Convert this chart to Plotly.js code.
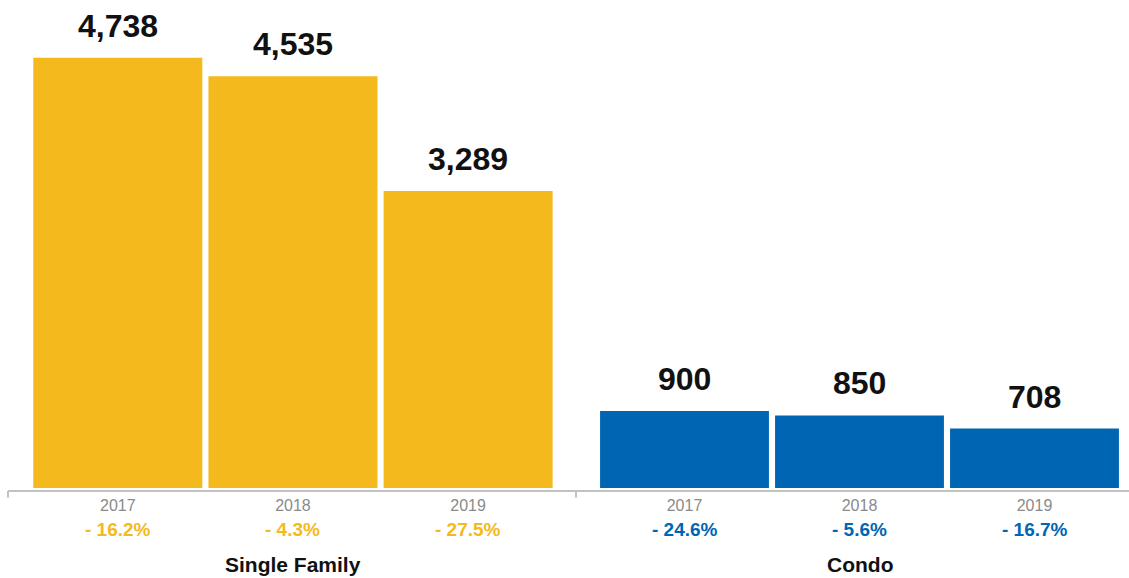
<!DOCTYPE html>
<html>
<head>
<meta charset="utf-8">
<script src="https://cdn.plot.ly/plotly-3.0.1.min.js"></script>
<style>html,body{margin:0;padding:0;background:#fff;}#chart{width:1129px;height:578px;}</style>
</head>
<body>
<div id="chart"></div>
<script>
const groups = ["Single Family", "Condo"];
const years = ["2017", "2018", "2019"];
const singleFamily = [4738, 4535, 3289];
const condo = [900, 850, 708];
const singleFamilyChange = ["- 16.2%", "- 4.3%", "- 27.5%"];
const condoChange = ["- 24.6%", "- 5.6%", "- 16.7%"];

const YELLOW = "#F4BA1D";
const BLUE = "#0066B3";
const FONT = "'Liberation Sans', Arial, Helvetica, sans-serif";

const W = 1129, H = 578;
const mT = 10, plotBottom = 488.5;
const mB = H - plotBottom;
const plotH = plotBottom - mT;
const py = px => (plotBottom - px) / plotH;  // pixel row -> paper y
const pxX = px => px / W;                    // pixel col -> paper x

const fmt = v => v.toLocaleString("en-US");

const traces = [
  {type: "bar", x: years, y: singleFamily, xaxis: "x", yaxis: "y",
   marker: {color: YELLOW}, hoverinfo: "skip"},
  {type: "bar", x: years, y: condo, xaxis: "x2", yaxis: "y2",
   marker: {color: BLUE}, hoverinfo: "skip"}
];

const annotations = [];
const series = [
  {xa: "x", ya: "y", vals: singleFamily, chg: singleFamilyChange, color: YELLOW, name: groups[0]},
  {xa: "x2", ya: "y2", vals: condo, chg: condoChange, color: BLUE, name: groups[1]}
];
series.forEach(s => {
  years.forEach((yr, i) => {
    annotations.push({xref: s.xa, yref: s.ya, x: i, y: s.vals[i],
      text: "<b>" + fmt(s.vals[i]) + "</b>", showarrow: false, yanchor: "bottom", yshift: 12,
      font: {family: FONT, size: 32, color: "#111"}});
    annotations.push({xref: s.xa, yref: "paper", x: i, y: py(530.5),
      text: "<b>" + s.chg[i] + "</b>", showarrow: false, yanchor: "middle",
      font: {family: FONT, size: 19, color: s.color}});
  });
  annotations.push({xref: s.xa + " domain", yref: "paper", x: 0.5, y: py(565.5),
    text: "<b>" + s.name + "</b>", showarrow: false, yanchor: "middle",
    font: {family: FONT, size: 21, color: "#111"}});
});

const lineColor = "#c2c2c2";
const shapes = [
  {type: "line", xref: "paper", yref: "paper", x0: pxX(8), x1: 1, y0: py(491.5), y1: py(491.5),
   line: {color: lineColor, width: 2}},
  {type: "line", xref: "paper", yref: "paper", x0: pxX(8), x1: pxX(8), y0: py(491.5), y1: py(498),
   line: {color: lineColor, width: 2}},
  {type: "line", xref: "paper", yref: "paper", x0: pxX(576), x1: pxX(576), y0: py(491.5), y1: py(498),
   line: {color: lineColor, width: 2}}
];

const yRange = [62, 62 + plotH / 0.09213];
const xaxisBase = () => ({type: "category", range: [-0.5, 2.5], autorange: false,
  showgrid: false, zeroline: false, showline: false, ticks: "",
  tickfont: {family: FONT, size: 16, color: "#8a8a8a"}, ticklabelstandoff: 6, fixedrange: true});
const yaxisBase = () => ({range: yRange, autorange: false, visible: false, showgrid: false,
  zeroline: false, fixedrange: true});

const layout = {
  width: W, height: H,
  margin: {l: 0, r: 0, t: mT, b: mB, pad: 0},
  paper_bgcolor: "#fff", plot_bgcolor: "#fff",
  showlegend: false, bargap: 0.035,
  xaxis: Object.assign(xaxisBase(), {domain: [pxX(30.2), pxX(555.7)], anchor: "y"}),
  xaxis2: Object.assign(xaxisBase(), {domain: [pxX(597), pxX(1122)], anchor: "y2"}),
  yaxis: Object.assign(yaxisBase(), {anchor: "x"}),
  yaxis2: Object.assign(yaxisBase(), {anchor: "x2"}),
  annotations: annotations,
  shapes: shapes,
  font: {family: FONT}
};

Plotly.newPlot("chart", traces, layout, {displayModeBar: false, staticPlot: true});
</script>
</body>
</html>
